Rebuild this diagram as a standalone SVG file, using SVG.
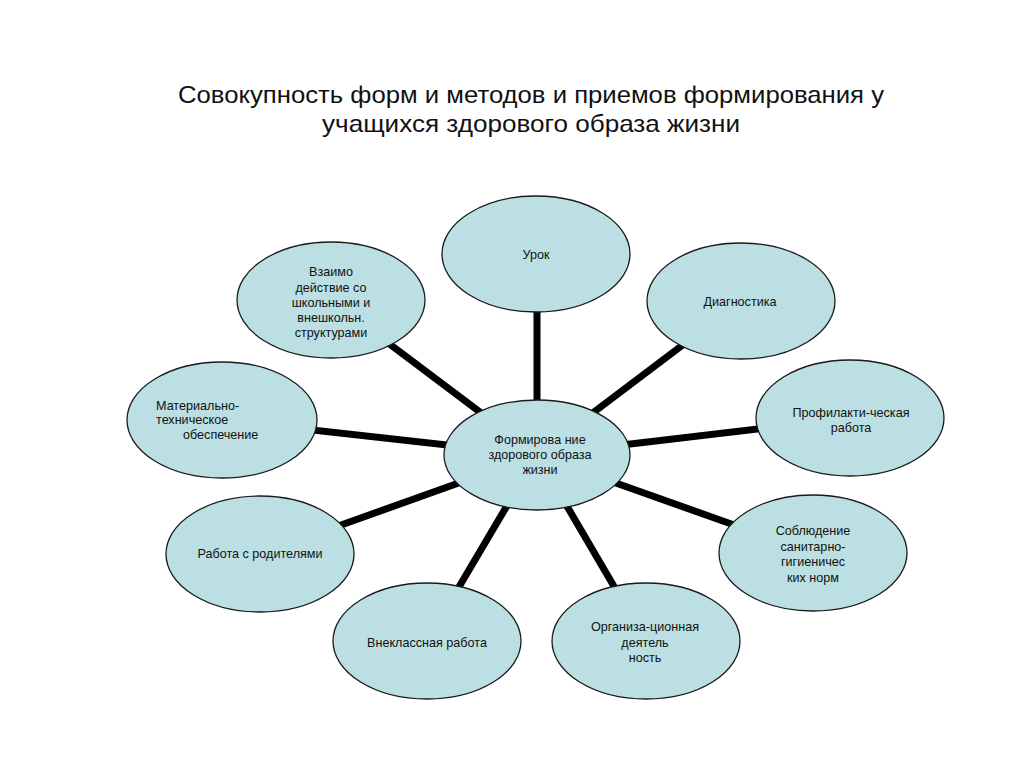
<svg xmlns="http://www.w3.org/2000/svg" width="1024" height="767" viewBox="0 0 1024 767">
<style>
.bg{fill:#ffffff}
.node ellipse{fill:#bbdfe3;stroke:#1a1a1a;stroke-width:1.3}
.node text{font-family:"Liberation Sans",Arial,sans-serif;font-size:12.6px;fill:#111;text-anchor:middle}
.node text.left{text-anchor:start}
#connectors line{stroke:#000;stroke-width:7;stroke-linecap:butt}
.title{font-family:"Liberation Sans",Arial,sans-serif;font-size:24px;fill:#111;text-anchor:middle}
</style>
<rect class="bg" x="0" y="0" width="1024" height="767"/>
<g id="title">
<text class="title" x="531" y="103" textLength="706" lengthAdjust="spacingAndGlyphs">Совокупность форм и методов и приемов формирования у</text>
<text class="title" x="531" y="132" textLength="418" lengthAdjust="spacingAndGlyphs">учащихся здорового образа жизни</text>
</g>
<g id="connectors">
<line x1="537" y1="455" x2="537" y2="254"/>
<line x1="537" y1="455" x2="331" y2="300"/>
<line x1="537" y1="455" x2="741" y2="301"/>
<line x1="537" y1="455" x2="850" y2="418"/>
<line x1="537" y1="455" x2="813" y2="553"/>
<line x1="537" y1="455" x2="646" y2="641"/>
<line x1="537" y1="455" x2="427" y2="641"/>
<line x1="537" y1="455" x2="260" y2="554"/>
<line x1="537" y1="455" x2="222" y2="420"/>
</g>
<g id="node-urok" class="node">
<ellipse cx="536" cy="254" rx="94" ry="58"/>
<text x="536" y="259">Урок</text>
</g>
<g id="node-vzaimo" class="node">
<ellipse cx="331" cy="300" rx="94" ry="58"/>
<text x="331" y="276">Взаимо</text>
<text x="331" y="292">действие со</text>
<text x="331" y="307">школьными и</text>
<text x="331" y="322">внешкольн.</text>
<text x="331" y="337">структурами</text>
</g>
<g id="node-diag" class="node">
<ellipse cx="741" cy="301" rx="94" ry="58"/>
<text x="740" y="306">Диагностика</text>
</g>
<g id="node-profil" class="node">
<ellipse cx="850" cy="418" rx="94" ry="58"/>
<text x="851" y="417">Профилакти-ческая</text>
<text x="851" y="432">работа</text>
</g>
<g id="node-sobl" class="node">
<ellipse cx="813" cy="553" rx="94" ry="58"/>
<text x="813" y="535">Соблюдение</text>
<text x="813" y="551">санитарно-</text>
<text x="813" y="566">гигиеничес</text>
<text x="813" y="582">ких норм</text>
</g>
<g id="node-org" class="node">
<ellipse cx="646" cy="641" rx="94" ry="58"/>
<text x="645" y="631">Организа-ционная</text>
<text x="645" y="647">деятель</text>
<text x="645" y="662">ность</text>
</g>
<g id="node-vneklass" class="node">
<ellipse cx="427" cy="641" rx="94" ry="58"/>
<text x="427" y="647">Внеклассная работа</text>
</g>
<g id="node-rabota" class="node">
<ellipse cx="260" cy="554" rx="94" ry="58"/>
<text x="260" y="558">Работа с родителями</text>
</g>
<g id="node-mater" class="node">
<ellipse cx="222" cy="420" rx="95" ry="58"/>
<text class="left" x="156" y="410">Материально-</text>
<text class="left" x="156" y="424">техническое</text>
<text class="left" x="183" y="439">обеспечение</text>
</g>
<g id="node-center" class="node">
<ellipse cx="537" cy="455" rx="93" ry="55"/>
<text x="540" y="444">Формирова ние</text>
<text x="540" y="459">здорового образа</text>
<text x="540" y="474">жизни</text>
</g>
</svg>
